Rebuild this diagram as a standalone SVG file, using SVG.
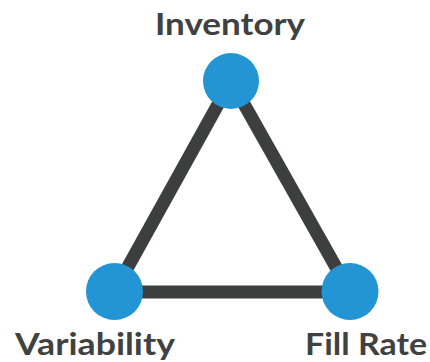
<svg xmlns="http://www.w3.org/2000/svg" width="430" height="362" viewBox="0 0 430 362">
  <style>
    .edge { stroke: #3d3f3e; stroke-width: 13; stroke-linecap: butt; fill: none; }
    .node { fill: #2394d4; }
    .label { font-family: "Lato", "Open Sans", "Liberation Sans", sans-serif; font-weight: 700; font-size: 31px; fill: #404241; }
  </style>
  <rect width="430" height="362" fill="#ffffff"/>
  <g id="connectors">
    <line class="edge" x1="231" y1="81" x2="114" y2="292"/>
    <line class="edge" x1="231" y1="81" x2="350" y2="292"/>
    <line class="edge" x1="114" y1="292" x2="350" y2="292"/>
  </g>
  <g id="inventory">
    <circle class="node" cx="231" cy="81" r="28"/>
    <text class="label" x="230" y="35" text-anchor="middle" textLength="150" lengthAdjust="spacingAndGlyphs">Inventory</text>
  </g>
  <g id="variability">
    <circle class="node" cx="114.5" cy="291.5" r="28.5"/>
    <text class="label" x="95" y="355" text-anchor="middle" textLength="160" lengthAdjust="spacingAndGlyphs">Variability</text>
  </g>
  <g id="fill-rate">
    <circle class="node" cx="350" cy="291.5" r="28.5"/>
    <text class="label" x="366" y="355" text-anchor="middle" textLength="122" lengthAdjust="spacingAndGlyphs">Fill Rate</text>
  </g>
</svg>
